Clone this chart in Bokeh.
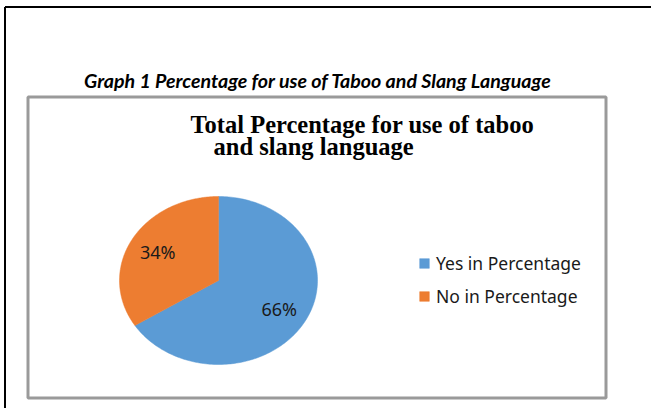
import numpy as np
from bokeh.plotting import figure
from bokeh.models import Range1d, ColumnDataSource, Legend, LegendItem
from bokeh.core.properties import value
from bokeh.embed import file_html
from bokeh.resources import INLINE

# ---- data ----
categories = ["Yes in Percentage", "No in Percentage"]
percent = [66, 34]
pct_labels = ["66%", "34%"]
colors = ["#5B9BD5", "#ED7D31"]
caption = "Graph 1 Percentage for use of Taboo and Slang Language"
title_lines = ["Total Percentage for use of taboo", "and slang language"]

# ---- figure: data coords = picture pixels (y down) ----
W, H = 651, 408
p = figure(width=W, height=H, x_range=Range1d(0, W), y_range=Range1d(H, 0),
           output_backend="svg", toolbar_location=None, min_border=0)
p.axis.visible = False
p.grid.visible = False
p.outline_line_color = None
p.background_fill_color = "white"
p.border_fill_color = "white"

# document frame lines (top and left)
p.segment(x0=[4.5, 4.5], y0=[6.5, 6.5], x1=[W, 4.5], y1=[6.5, H], line_color="black", line_width=2)

# chart area box
p.quad(left=[27.5], right=[605.5], top=[96.5], bottom=[397.5], fill_alpha=0,
       line_color="#9a9a9a", line_width=3)

# caption
p.text(x=[317.5], y=[80], text=[caption], text_font=value("Lato"),
       text_font_style="bold italic", text_font_size="19.6px", text_color="black",
       text_align="center", text_baseline="alphabetic")

# chart title (two lines)
p.text(x=[190, 213], y=[124, 146], text=title_lines, text_font=value("Liberation Serif"),
       text_font_style="bold", text_font_size="24.5px", text_color="black",
       text_align="left", text_baseline="alphabetic")

# ---- pie (elliptical, clockwise from 12 o'clock) ----
cx, cy, rx, ry = 218, 280, 99, 84
total = float(sum(percent))
xs, ys, lx, ly = [], [], [], []
start = np.pi / 2
for v in percent:
    end = start - v / total * 2 * np.pi
    th = np.linspace(start, end, 200)
    xs.append([cx] + list(cx + rx * np.cos(th)) + [cx])
    ys.append([cy] + list(cy - ry * np.sin(th)) + [cy])
    mid = (start + end) / 2
    lx.append(cx + 0.7 * rx * np.cos(mid))
    ly.append(cy - 0.7 * ry * np.sin(mid))
    start = end

src = ColumnDataSource(dict(xs=xs, ys=ys, color=colors, label=categories))
r = p.patches("xs", "ys", source=src, fill_color="color", line_color="color", line_width=0.5)

p.text(x=lx, y=ly, text=pct_labels, text_font=value("Noto Sans"), text_font_size="18px",
       text_color="#1a1a1a", text_align="center", text_baseline="middle")

legend = Legend(items=[LegendItem(label=categories[i], renderers=[r], index=i) for i in range(len(categories))],
                location=(418, 100), orientation="vertical",
                glyph_width=12, glyph_height=12, label_height=12, label_width=20,
                spacing=9, padding=0, margin=0, label_standoff=6,
                border_line_alpha=0, background_fill_alpha=0,
                label_text_font="Noto Sans", label_text_font_size="17.5px",
                label_text_color="#1a1a1a", label_text_baseline="middle")
p.add_layout(legend)

open("out.html", "w").write(file_html(p, INLINE))
